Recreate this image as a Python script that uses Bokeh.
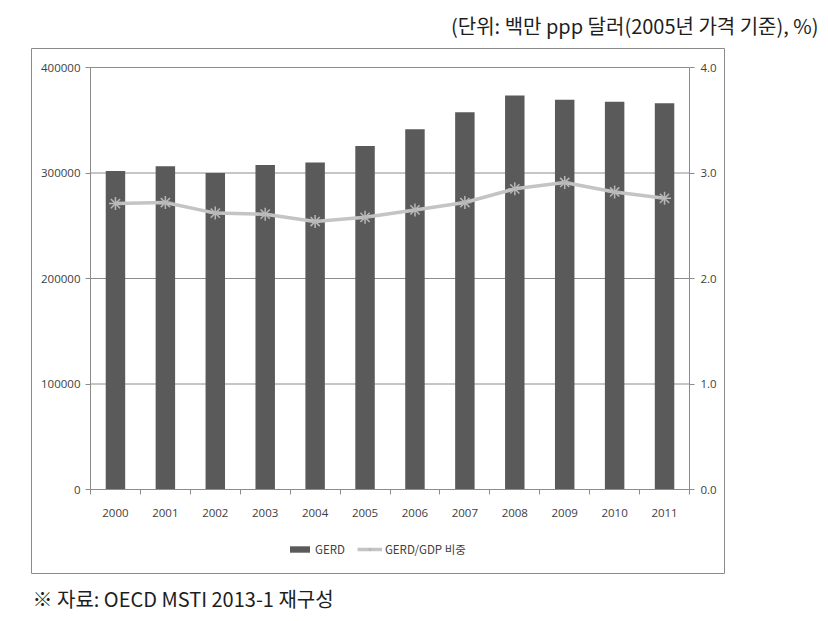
from bokeh.plotting import figure
from bokeh.models import (Range1d, LinearAxis, FixedTicker, Legend, LegendItem,
                          Title, NumeralTickFormatter, ColumnDataSource)
from bokeh.embed import file_html
from bokeh.resources import INLINE

years = ["2000", "2001", "2002", "2003", "2004", "2005",
         "2006", "2007", "2008", "2009", "2010", "2011"]
gerd = [302000, 306500, 300000, 307500, 310000, 325500,
        341500, 357500, 373500, 369500, 367500, 366000]
gerd_gdp = [2.71, 2.72, 2.62, 2.61, 2.54, 2.58,
            2.65, 2.72, 2.85, 2.91, 2.82, 2.76]
left_ticks = [0, 100000, 200000, 300000, 400000]
right_ticks = [0.0, 1.0, 2.0, 3.0, 4.0]
unit_text = "(단위: 백만 ppp 달러(2005년 가격 기준), %)"
source_text = "※ 자료: OECD MSTI 2013-1 재구성"
legend_labels = ["GERD", "GERD/GDP 비중"]

n = len(years)
xpos = [i + 0.5 for i in range(n)]
src = ColumnDataSource(dict(x=xpos, gerd=gerd, ratio=gerd_gdp, year=years))

# layout (canvas pixels)
W, H = 828, 621
BL, BT, BR, BB = 31, 48, 724, 573        # outer chart box = plot frame
AL, AT, AR, AB = 90, 67, 689, 489        # axes area inside the box
ymax, rmax = 400000, 4.0
ppx = (AR - AL) / n
ppy = (AB - AT) / ymax
x_range = Range1d(-(AL - BL) / ppx, n + (BR - AR) / ppx)
y_range = Range1d(-(BB - AB) / ppy, ymax + (AT - BT) / ppy)
rscale = rmax / ymax

p = figure(width=W, height=H, output_backend="svg", toolbar_location=None,
           x_range=x_range, y_range=y_range, x_axis_location=None, y_axis_location=None,
           min_border_left=BL, min_border_right=W - BR,
           min_border_top=BT, min_border_bottom=H - BB, title=None)
p.outline_line_color = "#8a8a8a"
p.outline_line_width = 1
p.background_fill_color = "white"
p.border_fill_color = "white"
p.grid.visible = False

grid_col = "#8c8c8c"
label_col = "#404040"
tick_font = "Open Sans"
tick_size = "11.5px"

# gridlines across the axes area only
p.segment(x0=[0] * len(left_ticks), x1=[n] * len(left_ticks), y0=left_ticks, y1=left_ticks,
          line_color=grid_col, line_width=1)

# x axis
xax = LinearAxis(fixed_location=0, bounds=(0, n),
                 ticker=FixedTicker(ticks=xpos, minor_ticks=list(range(n + 1))))
xax.major_label_overrides = {x: y for x, y in zip(xpos, years)}
xax.major_tick_line_color = None
xax.minor_tick_line_color = grid_col
xax.minor_tick_out = 5
xax.minor_tick_in = 0
xax.axis_line_color = grid_col
xax.major_label_text_font = tick_font
xax.major_label_text_font_size = tick_size
xax.major_label_text_color = label_col
xax.major_label_standoff = 13
p.add_layout(xax, "below")

# left axis
yax = LinearAxis(fixed_location=0, bounds=(0, ymax), ticker=FixedTicker(ticks=left_ticks),
                 formatter=NumeralTickFormatter(format="0"))
yax.minor_tick_line_color = None
yax.major_tick_line_color = grid_col
yax.major_tick_out = 5
yax.major_tick_in = 0
yax.axis_line_color = grid_col
yax.major_label_text_font = tick_font
yax.major_label_text_font_size = tick_size
yax.major_label_text_color = label_col
yax.major_label_standoff = 5
p.add_layout(yax, "left")

# right axis
p.extra_y_ranges = {"ratio": Range1d(y_range.start * rscale, y_range.end * rscale)}
rax = LinearAxis(y_range_name="ratio", fixed_location=n, bounds=(0, rmax),
                 ticker=FixedTicker(ticks=right_ticks),
                 formatter=NumeralTickFormatter(format="0.0"))
rax.minor_tick_line_color = None
rax.major_tick_line_color = grid_col
rax.major_tick_out = 5
rax.major_tick_in = 0
rax.axis_line_color = grid_col
rax.major_label_text_font = tick_font
rax.major_label_text_font_size = tick_size
rax.major_label_text_color = label_col
rax.major_label_standoff = 6
p.add_layout(rax, "right")

bars = p.vbar(x="x", top="gerd", width=0.39, bottom=0, source=src,
              fill_color="#5a5a5a", line_color=None)
line = p.line(x="x", y="ratio", source=src, y_range_name="ratio",
              line_color="#c4c4c4", line_width=3.5)
marks = p.scatter(x="x", y="ratio", source=src, y_range_name="ratio",
                  marker="asterisk", size=13, line_color="#b8b8b8", line_width=1.5)

legend = Legend(items=[LegendItem(label=legend_labels[0], renderers=[bars]),
                       LegendItem(label=legend_labels[1], renderers=[line, marks])],
                orientation="horizontal", location=(256, 16),
                label_text_font="Noto Sans CJK KR", label_text_font_size="11.5px",
                label_text_color=label_col, glyph_width=25, glyph_height=8,
                label_standoff=3, spacing=12, padding=0, margin=0,
                border_line_color=None, background_fill_alpha=0)
p.add_layout(legend, "center")

# unit text above, source text below (side-panel titles)
head = Title(text=unit_text, align="right", offset=-(818 - BR),
             text_font="Noto Sans CJK KR", text_font_size="20px",
             text_font_style="normal", text_color="#1e1e1e", standoff=17)
p.add_layout(head, "above")
foot = Title(text=source_text, align="left", offset=32 - BL,
             text_font="Noto Sans CJK KR", text_font_size="20px",
             text_font_style="normal", text_color="#1e1e1e", standoff=16)
p.add_layout(foot, "below")

open("out.html", "w").write(file_html(p, INLINE))
